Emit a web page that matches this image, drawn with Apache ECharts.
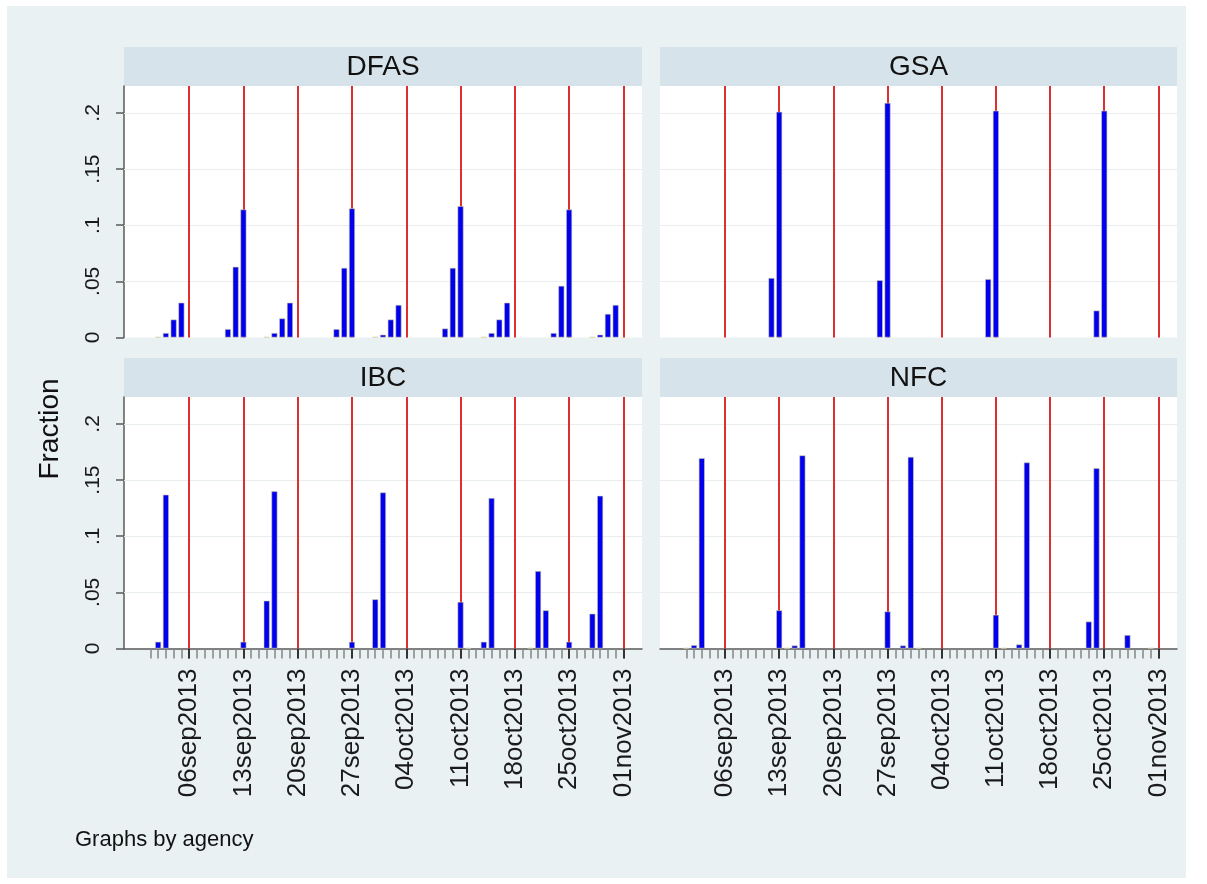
<!DOCTYPE html>
<html><head><meta charset="utf-8">
<script src="https://cdn.jsdelivr.net/npm/echarts@6/dist/echarts.min.js"></script>
<style>html,body{margin:0;padding:0;background:#ffffff}#c{width:1207px;height:884px}</style>
</head><body><div id="c"></div>
<script>
// ---------- data ----------
const agencies = ['DFAS', 'GSA', 'IBC', 'NFC'];
const tickDates = ['2013-09-06','2013-09-13','2013-09-20','2013-09-27','2013-10-04','2013-10-11','2013-10-18','2013-10-25','2013-11-01'];
const fridayLines = ['2013-09-06','2013-09-13','2013-09-20','2013-09-27','2013-10-04','2013-10-11','2013-10-18','2013-10-25','2013-11-01'];
const yTicks = [0, 0.05, 0.1, 0.15, 0.2];
const yTickLabels = ['0', '.05', '.1', '.15', '.2'];
const firstDay = '2013-09-01';
const lastDay = '2013-11-01';

const dfasDates = ['2013-09-02','2013-09-03','2013-09-04','2013-09-05','2013-09-11','2013-09-12','2013-09-13',
  '2013-09-16','2013-09-17','2013-09-18','2013-09-19','2013-09-25','2013-09-26','2013-09-27',
  '2013-09-30','2013-10-01','2013-10-02','2013-10-03','2013-10-09','2013-10-10','2013-10-11',
  '2013-10-14','2013-10-15','2013-10-16','2013-10-17','2013-10-23','2013-10-24','2013-10-25',
  '2013-10-28','2013-10-29','2013-10-30','2013-10-31'];
const dfasValues = [0.0004,0.004,0.016,0.031,0.0075,0.063,0.114,
  0.0004,0.004,0.017,0.031,0.0075,0.062,0.115,
  0.0004,0.0025,0.016,0.029,0.008,0.062,0.117,
  0.0004,0.004,0.016,0.031,0.004,0.046,0.114,
  0.0004,0.0025,0.021,0.029];

const gsaDates = ['2013-09-12','2013-09-13','2013-09-26','2013-09-27','2013-10-10','2013-10-11','2013-10-24','2013-10-25'];
const gsaValues = [0.053,0.201,0.051,0.209,0.052,0.202,0.024,0.202];

const ibcDates = ['2013-09-02','2013-09-03','2013-09-13','2013-09-16','2013-09-17','2013-09-27','2013-09-30','2013-10-01',
  '2013-10-11','2013-10-12','2013-10-14','2013-10-15','2013-10-20','2013-10-21','2013-10-22','2013-10-25','2013-10-28','2013-10-29'];
const ibcValues = [0.006,0.137,0.006,0.0426,0.140,0.006,0.0438,0.139,
  0.0415,0.0004,0.006,0.134,0.0006,0.069,0.034,0.006,0.031,0.136];

const nfcDates = ['2013-09-01','2013-09-02','2013-09-03','2013-09-13','2013-09-14','2013-09-15','2013-09-16',
  '2013-09-27','2013-09-29','2013-09-30','2013-10-01','2013-10-11','2013-10-12','2013-10-14','2013-10-15',
  '2013-10-23','2013-10-24','2013-10-28','2013-10-31'];
const nfcValues = [0.0004,0.003,0.1696,0.034,0.0004,0.0027,0.172,
  0.033,0.0027,0.1707,0.0004,0.030,0.0004,0.0036,0.1657,
  0.024,0.1606,0.012,0.0004];

// ---------- helpers ----------
const DAY = 86400000;
function utc(s){ const p = s.split('-').map(Number); return Date.UTC(p[0], p[1]-1, p[2]); }
const origin = utc(firstDay);
function dn(s){ return Math.round((utc(s) - origin) / DAY); }   // day number since 1 Sep 2013
const months = ['jan','feb','mar','apr','may','jun','jul','aug','sep','oct','nov','dec'];
function fmtDay(v){ const d = new Date(origin + Math.round(v) * DAY); return String(d.getUTCDate()).padStart(2,'0') + months[d.getUTCMonth()] + d.getUTCFullYear(); }
const xMin = dn(firstDay) - 3.4;
const xMax = dn(lastDay) + 2.4;
const dailyTicks = [];
for (let t = dn(firstDay); t <= dn(lastDay); t++) dailyTicks.push(t);
const weeklyTicks = tickDates.map(dn);
const yMax = 0.224;

const FONT = '"Liberation Sans", Arial, Helvetica, sans-serif';
const OUTER = '#eaf1f3', HEADER = '#d7e3ea', AXIS = '#5a5a5a', RED = '#dc2f2f', BLUE = '#0000ee';

const panels = [
  {name: agencies[0], dates: dfasDates, values: dfasValues, left: 124, top: 86, width: 518, height: 251.5, showY: true, showX: false},
  {name: agencies[1], dates: gsaDates, values: gsaValues, left: 660, top: 86, width: 517, height: 251.5, showY: false, showX: false},
  {name: agencies[2], dates: ibcDates, values: ibcValues, left: 124, top: 397, width: 518, height: 251.5, showY: true, showX: true},
  {name: agencies[3], dates: nfcDates, values: nfcValues, left: 660, top: 397, width: 517, height: 251.5, showY: false, showX: true}
];

const grid = [], xAxis = [], yAxis = [], series = [], graphic = [];
graphic.push({type:'rect', z:-10, shape:{x:7, y:6, width:1179, height:872}, style:{fill: OUTER}, silent:true});

panels.forEach((p, i) => {
  grid.push({left: p.left, top: p.top, width: p.width, height: p.height, show: true, backgroundColor: '#ffffff', borderWidth: 0, containLabel: false});
  const xi = xAxis.length;
  xAxis.push({
    type: 'value', gridIndex: i, min: xMin, max: xMax, position: 'bottom', show: p.showX,
    axisLine: {show: true, onZero: false, lineStyle: {color: AXIS, width: 1.5}},
    axisTick: {show: true, customValues: dailyTicks, length: 10, lineStyle: {color: '#858585', width: 1.5}},
    axisLabel: {show: false}, splitLine: {show: false}, minorTick: {show: false}
  });
  if (p.showX) {
    xAxis.push({
      type: 'value', gridIndex: i, min: xMin, max: xMax, position: 'bottom', show: true,
      axisLine: {show: false, onZero: false},
      axisTick: {show: true, customValues: weeklyTicks, length: 10, lineStyle: {color: '#333333', width: 2}},
      axisLabel: {show: true, customValues: weeklyTicks, rotate: 90, margin: 20, fontFamily: FONT, fontSize: 26, color: '#1a1a1a',
        formatter: v => fmtDay(v)},
      splitLine: {show: false}
    });
  }
  yAxis.push({
    type: 'value', gridIndex: i, min: 0, max: yMax, show: p.showY, position: 'left',
    axisLine: {show: true, onZero: false, lineStyle: {color: AXIS, width: 1.5}},
    axisTick: {show: true, customValues: yTicks, length: 8, lineStyle: {color: AXIS, width: 1.5}},
    axisLabel: {show: true, customValues: yTicks, rotate: 90, margin: 20, fontFamily: FONT, fontSize: 21, color: '#1a1a1a',
      formatter: v => { const k = yTicks.findIndex(t => Math.abs(t - v) < 1e-9); return k >= 0 ? yTickLabels[k] : ''; }},
    splitLine: {show: false}
  });
  const mlData = yTicks.slice(1).map(v => ({yAxis: v, lineStyle: {color: '#e8edf0', width: 1, type: 'solid'}}))
    .concat(fridayLines.map(d => ({xAxis: dn(d), lineStyle: {color: RED, width: 2, type: 'solid'}})));
  series.push({
    type: 'line', xAxisIndex: xi, yAxisIndex: i, data: [], z: 1, silent: true,
    markLine: {z: 1, silent: true, symbol: ['none','none'], label: {show: false}, animation: false, data: mlData}
  });
  series.push({
    type: 'bar', name: p.name, xAxisIndex: xi, yAxisIndex: i, z: 3, barWidth: 6,
    itemStyle: {color: BLUE, borderColor: '#d3cea6', borderWidth: 0.6},
    data: p.dates.map((d, k) => [dn(d), p.values[k]])
  });
  const hTop = p.top < 200 ? 47 : 358;
  graphic.push({type:'rect', shape:{x: p.left, y: hTop, width: p.width, height: p.top - hTop}, style:{fill: HEADER}, silent:true});
  graphic.push({type:'text', x: p.left + p.width/2, y: hTop + (p.top - hTop)/2 + 1,
    style:{text: p.name, fontFamily: FONT, fontSize: 28, fill: '#111111', align: 'center', verticalAlign: 'middle'}, silent:true});
});

graphic.push({type:'text', x: 50, y: 429, rotation: Math.PI/2,
  style:{text: 'Fraction', fontFamily: FONT, fontSize: 28, fill: '#111111', align: 'center', verticalAlign: 'middle'}});
graphic.push({type:'text', x: 75, y: 840,
  style:{text: 'Graphs by agency', fontFamily: FONT, fontSize: 22, fill: '#111111', align: 'left', verticalAlign: 'middle'}});

const chart = echarts.init(document.getElementById('c'), null, {renderer: 'canvas'});
chart.setOption({animation: false, backgroundColor: '#ffffff', grid, xAxis, yAxis, series, graphic});
</script>
</body></html>
